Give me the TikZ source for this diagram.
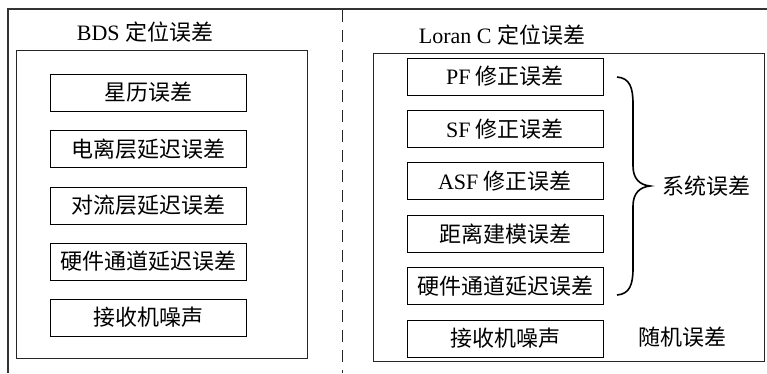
\documentclass[tikz,border=0pt]{standalone}
\usepackage{fontspec}
\setmainfont{Liberation Serif}
\newfontfamily\cjk{Noto Sans CJK SC}
\begin{document}
\begin{tikzpicture}[x=1pt,y=-1pt,
  item/.style={draw=black,line width=1pt,minimum width=196pt,minimum height=37pt,inner sep=0pt,font=\fontsize{22}{26}\selectfont},
  lbl/.style={inner sep=0pt,font=\fontsize{22}{26}\selectfont},
  frame/.style={draw=black!80,line width=1.2pt},
  panel/.style={draw=black!85,line width=1pt}]
\useasboundingbox (0,0) rectangle (767,373);
% outer frame and divider
\draw[frame] (767,9) -- (8,9) -- (8,373);
\draw[black!85,line width=1pt,dash pattern=on 12pt off 8pt] (342,10) -- (342,373);
% panels
\draw[panel] (16,50) rectangle (307,358);
\draw[panel] (373,53) rectangle (764,361);
% titles
\node[lbl] (tl) at (145,32) {BDS {\cjk 定位误差}};
\node[lbl] (tr) at (502,35) {Loran C {\cjk 定位误差}};
% left items
\node[item] (l1) at (148,92.5) {\cjk 星历误差};
\node[item] (l2) at (148,149) {\cjk 电离层延迟误差};
\node[item] (l3) at (148,205.5) {\cjk 对流层延迟误差};
\node[item] (l4) at (148,261.5) {\cjk 硬件通道延迟误差};
\node[item] (l5) at (148,317.5) {\cjk 接收机噪声};
% right items
\node[item] (r1) at (505,76.5) {PF {\cjk 修正误差}};
\node[item] (r2) at (505,129) {SF {\cjk 修正误差}};
\node[item] (r3) at (505,181) {ASF {\cjk 修正误差}};
\node[item] (r4) at (505,234) {\cjk 距离建模误差};
\node[item] (r5) at (505,286) {\cjk 硬件通道延迟误差};
\node[item] (r6) at (505,338.5) {\cjk 接收机噪声};
% brace
\coordinate (bt) at (617,77);
\coordinate (bb) at (617,295);
\coordinate (tip) at (650,186);
\draw[line width=1.6pt] (bt) .. controls (630,78) and (633,88) .. (633,104) -- (633,166)
  .. controls (633,179) and (640,185) .. (tip)
  .. controls (640,187) and (633,193) .. (633,206) -- (633,268)
  .. controls (633,284) and (630,294) .. (bb);
\node[lbl] (sys) at (706,186) {\cjk 系统误差};
\node[lbl] (rnd) at (682,337) {\cjk 随机误差};
\end{tikzpicture}
\end{document}
